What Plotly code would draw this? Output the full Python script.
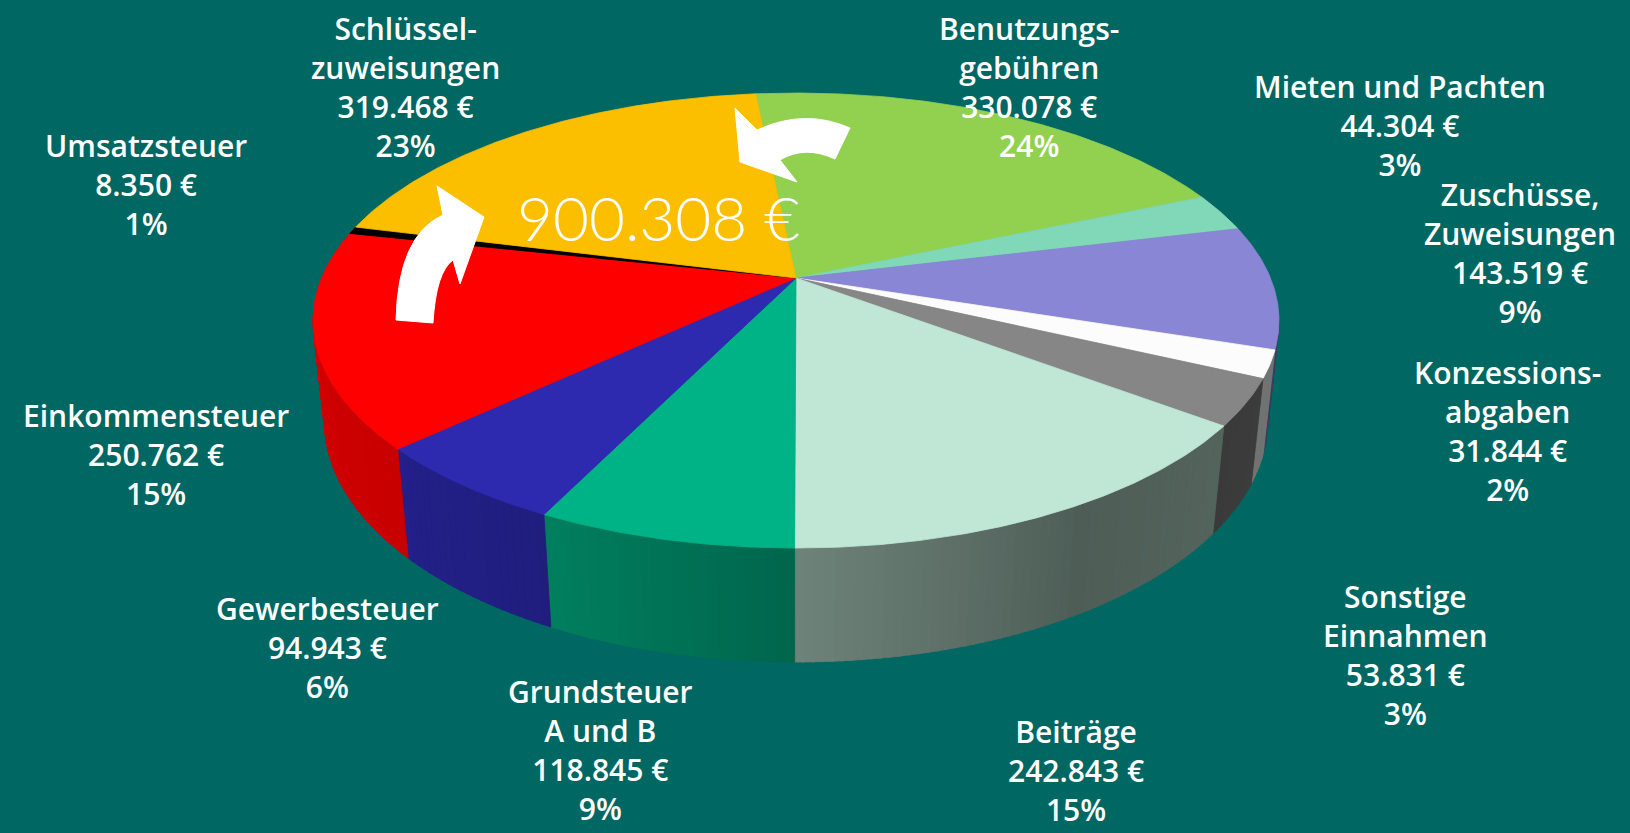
import numpy as np
import plotly.graph_objects as go

# ---------------- data ----------------
categories = ["Benutzungs-<br>gebühren", "Mieten und Pachten", "Zuschüsse,<br>Zuweisungen",
              "Konzessions-<br>abgaben", "Sonstige<br>Einnahmen", "Beiträge",
              "Grundsteuer<br>A und B", "Gewerbesteuer", "Einkommensteuer",
              "Umsatzsteuer", "Schlüssel-<br>zuweisungen"]
values = [330078, 44304, 143519, 31844, 53831, 242843, 118845, 94943, 250762, 8350, 319468]
percent_labels = ["24%", "3%", "9%", "2%", "3%", "15%", "9%", "6%", "15%", "1%", "23%"]
total_label = "900.308 €"

# ---------------- style ----------------
colors = ["#92D050", "#80D8B8", "#8886D5", "#FCFCFC", "#868686", "#C0E6D6",
          "#00B386", "#2D2AB0", "#FF0000", "#000000", "#FBBF00"]
label_pos = [(1029, 87), (1400, 125), (1520, 253), (1507, 431), (1405, 655), (1076, 770),
             (600, 750), (327, 647), (156, 454), (146, 184), (405, 87)]
BG = "#006762"
W, H = 1630, 833
cx, cy = 796, 278
s_a, c_a = 0.4627, 0.8865
D, F, HGT = 4.742, 2250.0, 0.2418
start_angle = -5.8

def project(theta_deg, Y):
    th = np.radians(theta_deg)
    X = np.sin(th)
    Z = -np.cos(th)
    depth = D - (Y * s_a + Z * c_a)
    u = Y * c_a - Z * s_a
    return cx + F * X / depth, cy - F * u / depth

def shade(theta):
    return float(np.interp(theta, [100, 150, 180, 206, 230, 260],
                           [0.47, 0.41, 0.57, 0.71, 0.79, 0.83]))

def scale_color(hexc, f):
    r, g, b = int(hexc[1:3], 16), int(hexc[3:5], 16), int(hexc[5:7], 16)
    return "rgb(%d,%d,%d)" % (min(255, r * f), min(255, g * f), min(255, b * f))

total = sum(values)
angles = [start_angle]
for v in values:
    angles.append(angles[-1] + 360.0 * v / total)

fig = go.Figure()

vis_lo = np.degrees(np.arccos(-c_a / D))
vis_hi = 360 - vis_lo

# side walls
for i, v in enumerate(values):
    a0, a1 = angles[i], angles[i + 1]
    lo, hi = max(a0, vis_lo - 1), min(a1, vis_hi + 1)
    if hi <= lo:
        continue
    n = max(1, int(np.ceil(hi - lo)))
    edges = np.linspace(lo, hi, n + 1)
    for k in range(n):
        e0, e1 = edges[k], min(edges[k + 1] + 0.25, hi)
        th = np.linspace(e0, e1, 4)
        xt, yt = project(th, 0.0)
        xb, yb = project(th[::-1], -HGT)
        col = scale_color(colors[i], shade((e0 + e1) / 2))
        fig.add_trace(go.Scatter(
            x=np.concatenate([xt, xb, xt[:1]]), y=np.concatenate([yt, yb, yt[:1]]),
            mode="lines", fill="toself", fillcolor=col,
            line=dict(color=col, width=0.8), hoverinfo="skip", showlegend=False))

# top faces
for i, v in enumerate(values):
    th = np.linspace(angles[i], angles[i + 1], max(3, int((angles[i + 1] - angles[i]) * 2)))
    xs, ys = project(th, 0.0)
    fig.add_trace(go.Scatter(
        x=np.concatenate([[cx], xs, [cx]]), y=np.concatenate([[cy], ys, [cy]]),
        mode="lines", fill="toself", fillcolor=colors[i],
        line=dict(color=colors[i], width=0.8), hoverinfo="skip", showlegend=False))

# labels
for i, cat in enumerate(categories):
    txt = "%s<br>%s €<br>%s" % (cat, f"{values[i]:,}".replace(",", "."), percent_labels[i])
    lx, ly = label_pos[i]
    fig.add_annotation(x=lx, y=ly, xref="x", yref="y", text=txt, showarrow=False,
                       xanchor="center", yanchor="middle", align="center",
                       font=dict(family="Open Sans", size=30, color="white", weight=600))

# center total
fig.add_annotation(x=658, y=217, xref="x", yref="y", text=total_label, showarrow=False,
                   xanchor="center", yanchor="middle",
                   font=dict(family="Lato", size=62, color="white", weight=300))

# curved arrows
fig.add_shape(type="path", xref="x", yref="y", layer="above",
              path="M 396,320 Q 398,235 443,215 L 437,186 L 484,217 L 460,284 L 453,260 Q 436,272 433,323 Z",
              fillcolor="white", line=dict(color="white", width=1))
fig.add_shape(type="path", xref="x", yref="y", layer="above",
              path="M 850,128 Q 805,108 757,130 L 735,108 L 740,162 L 797,182 L 780,160 Q 805,145 835,159 Z",
              fillcolor="white", line=dict(color="white", width=1))

fig.update_layout(
    width=W, height=H, margin=dict(l=0, r=0, t=0, b=0),
    paper_bgcolor=BG, plot_bgcolor=BG,
    xaxis=dict(range=[0, W], visible=False, fixedrange=True),
    yaxis=dict(range=[H, 0], visible=False, fixedrange=True),
    showlegend=False,
)
fig.write_html("out.html", config={"displayModeBar": False},
               post_script="document.body.style.margin='0';document.body.style.overflow='hidden';")
